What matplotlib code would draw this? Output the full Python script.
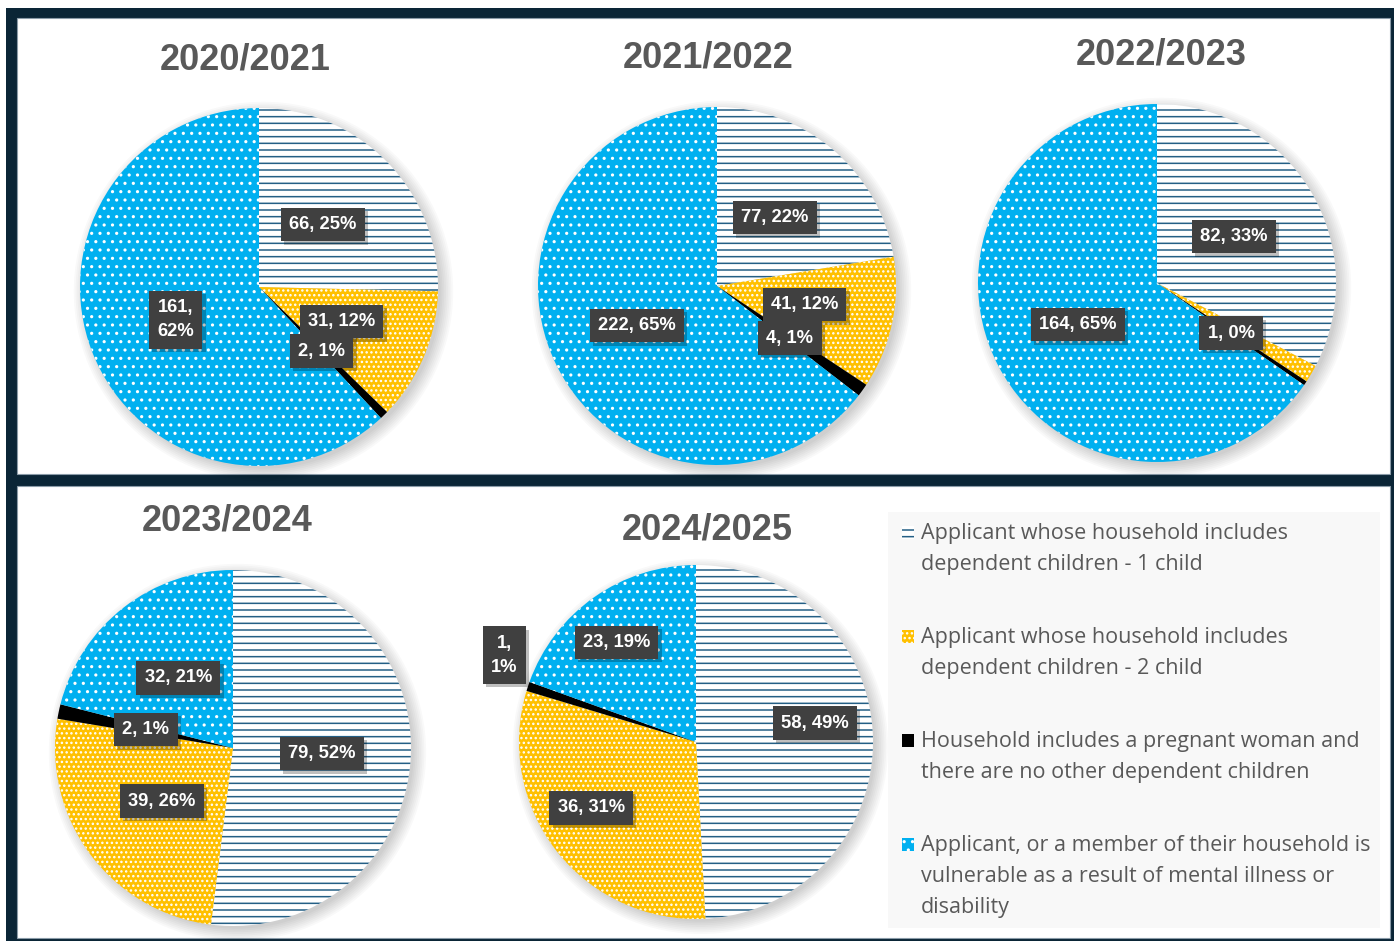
import matplotlib
matplotlib.use('Agg')
import matplotlib.pyplot as plt
import matplotlib.patches as patches
import matplotlib.patheffects as pe
import numpy as np

# data
years = ['2020/2021', '2021/2022', '2022/2023', '2023/2024', '2024/2025']
one_child = [66, 77, 82, 79, 58]
two_child = [31, 41, 4, 39, 36]
pregnant = [2, 4, 1, 2, 1]
vulnerable = [161, 222, 164, 32, 23]
categories = ['Applicant whose household includes\ndependent children - 1 child',
              'Applicant whose household includes\ndependent children - 2 child',
              'Household includes a pregnant woman and\nthere are no other dependent children',
              'Applicant, or a member of their household is\nvulnerable as a result of mental illness or\ndisability']

W, H = 1394, 941
DPI = 200
NAVY = '#0A2536'
GREY_TXT = '#595959'
BLUE = '#00B0F0'
YELLOW = '#FFC000'
LINE_BLUE = '#245F85'

plt.rcParams['hatch.linewidth'] = 0.55

# wedge styles: facecolor, hatch, hatch colour
styles = [('white', '-----', LINE_BLUE),
          (YELLOW, '.......', 'white'),
          ('black', None, 'black'),
          (BLUE, '....', 'white')]

# layout in pixels: pie centre, radius, title position
pie_pos = [(259, 287, 179), (717, 286, 179), (1157, 283, 179),
           (233, 748, 178), (696, 742, 177)]
title_pos = [(245, 60), (708, 58), (1161, 55), (227, 521), (707, 530)]
# label placement: (distance as fraction of radius, angle shift in degrees), None = hidden
label_pl = [[(0.5, 0), (0.5, 0), (0.5, 0), (0.5, 0)],
            [(0.5, 0), (0.5, 0), (0.5, 0), (0.5, 0)],
            [(0.5, 0), None, (0.5, 0), (0.5, 0)],
            [(0.5, 0), (0.5, 0), (0.5, 0), (0.5, 0)],
            [(0.68, 7.5), (0.70, -6), (1.19, -6), (0.72, 3.5)]]
wrapped = {(0, 3), (4, 2)}


def fx(x):
    return x / W


def fy(y):
    return 1 - y / H


fig = plt.figure(figsize=(W / DPI, H / DPI), dpi=DPI, facecolor='white')

# frame and panels
fig.patches.append(patches.Rectangle((fx(6), fy(941)), fx(1394) - fx(6), fy(8) - fy(941),
                                     transform=fig.transFigure, facecolor=NAVY, edgecolor='none', zorder=-3))
for top, bot in [(18, 474), (486, 938)]:
    fig.patches.append(patches.Rectangle((fx(17), fy(bot)), fx(1390) - fx(17), fy(top) - fy(bot),
                                         transform=fig.transFigure, facecolor='white',
                                         edgecolor='#8A9BA8', linewidth=0.4, zorder=-2))

for i, year in enumerate(years):
    cx, cy, R = pie_pos[i]
    s = 1.35 * R
    ax = fig.add_axes([fx(cx - s), fy(cy + s), 2 * s / W, 2 * s / H])
    ax.axis('off')

    # soft shadow, bottom right
    for k in range(8):
        ax.add_patch(patches.Circle((0.025, -0.025), 0.99 + 0.01 * k, facecolor='black',
                                    alpha=0.022, edgecolor='none', zorder=0))

    vals = [one_child[i], two_child[i], pregnant[i], vulnerable[i]]
    wedges, _ = ax.pie(vals, startangle=90, counterclock=False, radius=1.0,
                       wedgeprops=dict(linewidth=0))
    ax.set_xlim(-s / R, s / R)
    ax.set_ylim(-s / R, s / R)
    ax.set_aspect('equal')
    for w, (fc, hatch, hc) in zip(wedges, styles):
        w.set_facecolor(fc)
        w.set_edgecolor(hc)
        w.set_linewidth(0)
        w.set_zorder(2)
        if hatch:
            w.set_hatch(hatch)

    total = sum(vals)
    for j, (w, v) in enumerate(zip(wedges, vals)):
        pl = label_pl[i][j]
        if pl is None:
            continue
        r, shift = pl
        ang = np.deg2rad((w.theta1 + w.theta2) / 2 + shift)
        pct = int(round(100 * v / total))
        txt = f'{v},\n{pct}%' if (i, j) in wrapped else f'{v}, {pct}%'
        t = ax.text(r * np.cos(ang), r * np.sin(ang), txt, ha='center', va='center',
                    color='white', fontsize=6.6, fontweight='bold', family='Liberation Sans',
                    linespacing=1.55, zorder=5,
                    bbox=dict(boxstyle='square,pad=0.45', facecolor='#404040', edgecolor='none'))
        t.get_bbox_patch().set_path_effects([pe.withSimplePatchShadow(offset=(1.2, -1.2),
                                                                      shadow_rgbFace='black', alpha=0.25)])

    tx, ty = title_pos[i]
    fig.text(fx(tx), fy(ty), year, ha='center', va='center', fontsize=13,
             fontweight='bold', color=GREY_TXT, family='Liberation Sans')

# legend box
fig.patches.append(patches.Rectangle((fx(888), fy(928)), fx(1380) - fx(888), fy(512) - fy(928),
                                     transform=fig.transFigure, facecolor='#F8F8F8',
                                     edgecolor='none', zorder=-1))
for k, (label, (fc, hatch, hc)) in enumerate(zip(categories, styles)):
    y0 = 532 + 104 * k
    fig.patches.append(patches.Rectangle((fx(902), fy(y0 + 7)), 12 / W, 13 / H,
                                         transform=fig.transFigure, facecolor=fc,
                                         edgecolor=hc, linewidth=0, hatch=hatch, zorder=2))
    fig.text(fx(921), fy(y0 - 9), label, ha='left', va='top', fontsize=7.75,
             color=GREY_TXT, family='Open Sans', linespacing=1.62, zorder=3)

fig.savefig('out.png', dpi=DPI, facecolor='white')
